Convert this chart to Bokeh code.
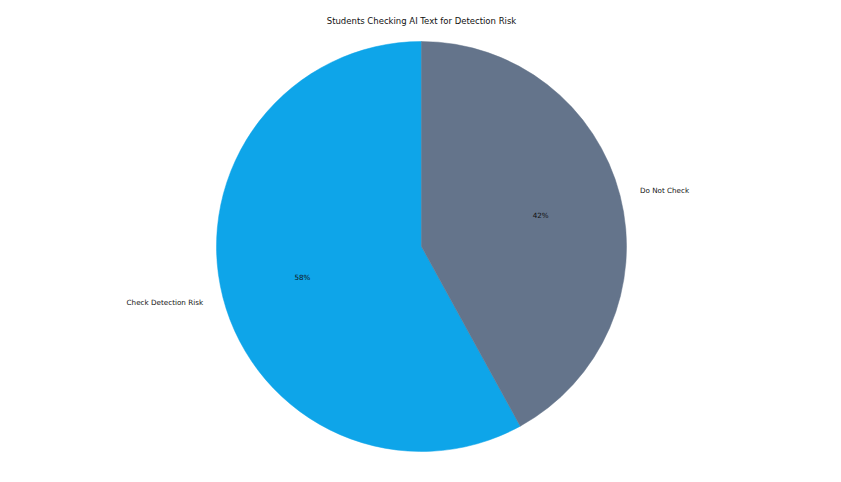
import math
from bokeh.plotting import figure
from bokeh.models import Range1d, ColumnDataSource
from bokeh.core.properties import value
from bokeh.embed import file_html
from bokeh.resources import INLINE

title_text = "Students Checking AI Text for Detection Risk"
categories = ["Check Detection Risk", "Do Not Check"]
shares = [58, 42]
colors = ["#0EA5E9", "#64748B"]

W, H = 825, 466
cx, cy, r = 421, H - 246, 205

p = figure(width=W, height=H, output_backend="svg", toolbar_location=None,
           x_range=Range1d(0, W), y_range=Range1d(0, H), min_border=0)
p.axis.visible = False
p.grid.visible = False
p.outline_line_color = None
p.background_fill_color = "white"
p.border_fill_color = "white"

total = sum(shares)
start = math.pi / 2
starts, ends, mids = [], [], []
for v in shares:
    span = 2 * math.pi * v / total
    starts.append(start)
    ends.append(start + span)
    mids.append(start + span / 2)
    start += span

src = ColumnDataSource(dict(start=starts, end=ends, color=colors))
p.wedge(x=cx, y=cy, radius=r, start_angle="start", end_angle="end",
        fill_color="color", line_color="color", line_width=0.5,
        direction="anticlock", source=src)

for cat, v, m in zip(categories, shares, mids):
    lx = cx + 1.1 * r * math.cos(m)
    ly = cy + 1.1 * r * math.sin(m)
    align = "left" if math.cos(m) > 0 else "right"
    p.text(x=[lx], y=[ly], text=[cat], text_align=align, text_baseline="middle",
           text_font=value("DejaVu Sans"), text_font_size="7.2px", text_color="#111111")
    px_ = cx + 0.6 * r * math.cos(m)
    py_ = cy + 0.6 * r * math.sin(m)
    p.text(x=[px_], y=[py_], text=[f"{v}%"], text_align="center", text_baseline="middle",
           text_font=value("DejaVu Sans"), text_font_size="7.2px", text_color="#111111")

p.text(x=[cx], y=[H - 20], text=[title_text], text_align="center", text_baseline="middle",
       text_font=value("DejaVu Sans"), text_font_size="8.5px", text_color="#111111")

open("out.html", "w").write(file_html(p, INLINE))
